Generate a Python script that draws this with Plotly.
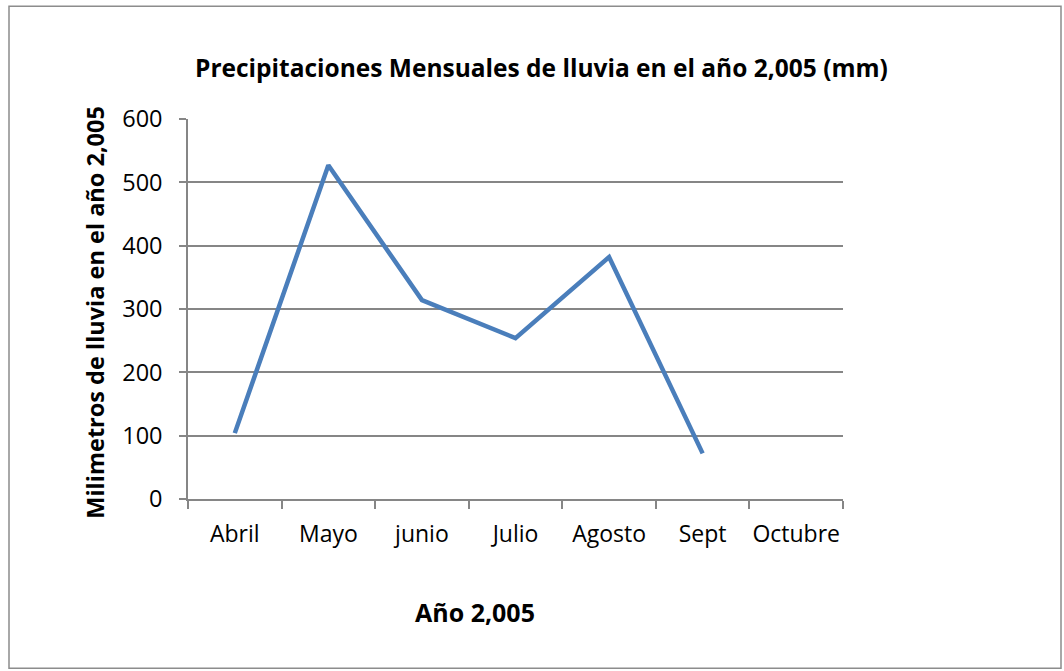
import plotly.graph_objects as go

meses = ["Abril", "Mayo", "junio", "Julio", "Agosto", "Sept", "Octubre"]
lluvia_mm = [104, 527, 314, 254, 382, 72, None]
y_ticks = [0, 100, 200, 300, 400, 500, 600]

titulo = "Precipitaciones Mensuales de lluvia en el año 2,005 (mm)"
titulo_x = "Año 2,005"
titulo_y = "Milimetros de lluvia en el año 2,005"

W, H = 1064, 671
L, R, T, B = 188, 843, 119, 499.5
pw, ph = R - L, B - T

def px(x):
    return (x - L) / pw

def py(y):
    return (B - y) / ph

FONT = "Open Sans"
grey = "#868686"

fig = go.Figure()
fig.add_trace(go.Scatter(
    x=meses, y=lluvia_mm, mode="lines",
    line=dict(color="#4a7ebb", width=4.5),
    connectgaps=False, showlegend=False, hoverinfo="x+y",
))

fig.update_layout(
    width=W, height=H,
    margin=dict(l=L, r=W - R, t=T, b=H - B, autoexpand=False),
    paper_bgcolor="white", plot_bgcolor="white",
    font=dict(family=FONT, color="black"),
    showlegend=False,
    xaxis=dict(
        type="category", categoryorder="array", categoryarray=meses,
        range=[-0.5, len(meses) - 0.5],
        showgrid=False, showline=True, linecolor=grey, linewidth=1.5,
        ticks="outside", ticklen=8, tickcolor=grey, tickwidth=1.5,
        tickson="boundaries", tickangle=0,
        tickfont=dict(family=FONT, size=23, color="black"),
        ticklabelstandoff=14,
        zeroline=False, fixedrange=True,
    ),
    yaxis=dict(
        range=[0, 600], tickvals=y_ticks,
        showgrid=True, gridcolor=grey, gridwidth=1.5,
        showline=True, linecolor=grey, linewidth=1.5,
        ticks="outside", ticklen=7, tickcolor=grey, tickwidth=1.5,
        tickfont=dict(family=FONT, size=23.5, color="black"),
        ticklabelstandoff=12,
        zeroline=False, fixedrange=True,
    ),
    shapes=[dict(
        type="rect", xref="paper", yref="paper",
        x0=px(9), x1=px(1061), y0=py(669), y1=py(6),
        line=dict(color="#8c8c8c", width=1.5), fillcolor="rgba(0,0,0,0)",
        layer="below",
    )],
    annotations=[
        dict(text="<b>" + titulo + "</b>", xref="paper", yref="paper",
             x=px(541), y=py(67), showarrow=False,
             font=dict(family=FONT, size=24.5, color="black"),
             xanchor="center", yanchor="middle"),
        dict(text="<b>" + titulo_x + "</b>", xref="paper", yref="paper",
             x=px(475), y=py(613), showarrow=False,
             font=dict(family=FONT, size=25, color="black"),
             xanchor="center", yanchor="middle"),
        dict(text="<b>" + titulo_y + "</b>", xref="paper", yref="paper",
             x=px(95), y=py(313), showarrow=False, textangle=-90,
             font=dict(family=FONT, size=23.5, color="black"),
             xanchor="center", yanchor="middle"),
    ],
)

fig.write_html("out.html", config={"displayModeBar": False},
               post_script="document.body.style.margin='0';")
